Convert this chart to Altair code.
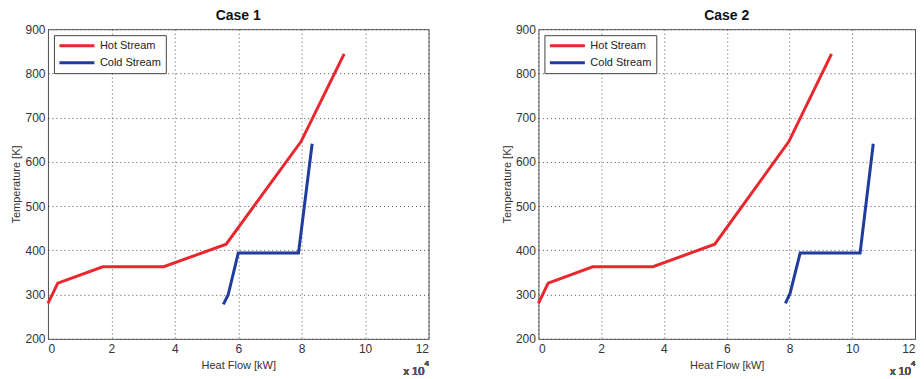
import altair as alt
import pandas as pd

# Heat flow in units of 1e4 kW, temperature in K
hot_q = [0.0, 0.31, 1.73, 3.65, 5.62, 7.98, 9.34]
hot_t = [280, 326, 363, 363, 414, 646, 844]

cold1_q = [5.53, 5.68, 6.00, 7.90, 8.33]
cold1_t = [278, 299, 394, 394, 641]

cold2_q = [7.87, 8.02, 8.34, 10.25, 10.67]
cold2_t = [280, 303, 394, 394, 641]

streams = ["Hot Stream", "Cold Stream"]
colors = ["#e8272e", "#1f3c9e"]
FONT = "Liberation Sans"


def frame(cold_q, cold_t):
    rows = []
    for i, (q, t) in enumerate(zip(hot_q, hot_t)):
        rows.append({"q": q, "t": t, "stream": "Hot Stream", "i": i})
    for i, (q, t) in enumerate(zip(cold_q, cold_t)):
        rows.append({"q": q, "t": t, "stream": "Cold Stream", "i": i})
    return pd.DataFrame(rows)


def panel(title, cold_q, cold_t, width):
    df = frame(cold_q, cold_t)
    base = alt.Chart(df)
    lines = base.mark_line(strokeWidth=3).encode(
        x=alt.X("q:Q", scale=alt.Scale(domain=[0, 12], nice=False),
                axis=alt.Axis(values=list(range(0, 13, 2)), title="Heat Flow [kW]")),
        y=alt.Y("t:Q", scale=alt.Scale(domain=[200, 900], nice=False),
                axis=alt.Axis(values=list(range(200, 901, 100)), title="Temperature [K]")),
        color=alt.Color("stream:N", sort=streams,
                        scale=alt.Scale(domain=streams, range=colors),
                        legend=alt.Legend(title=None, orient="top-left", offset=6,
                                          symbolType="M-1,0H6", symbolSize=100,
                                          symbolStrokeWidth=3, labelFontSize=11,
                                          labelColor="#222", labelFont=FONT,
                                          strokeColor="#444", fillColor="white",
                                          padding=4, rowPadding=4, labelOffset=29)),
        detail="stream:N",
        order="i:Q",
    )
    exp_main = base.mark_text(align="left", baseline="alphabetic", fontSize=11,
                              font=FONT, color="#555").encode(
        x=alt.value(width - 25), y=alt.value(346), text=alt.value("x 10"))
    exp_sup = base.mark_text(align="left", baseline="alphabetic", fontSize=8,
                             font=FONT, color="#555").encode(
        x=alt.value(width - 4), y=alt.value(337), text=alt.value("4"))
    return alt.layer(lines, exp_main, exp_sup).properties(
        width=width, height=310,
        title=alt.TitleParams(title, fontSize=14, fontWeight="bold", font=FONT,
                              color="#111", offset=0),
    ).resolve_scale(color="independent")


c1 = panel("Case 1", cold1_q, cold1_t, 381)
c2 = panel("Case 2", cold2_q, cold2_t, 377)

chart = alt.hconcat(c1, c2, spacing=110, bounds="flush").resolve_scale(
    color="independent").resolve_legend(color="independent").properties(
    padding={"left": 2, "top": 0, "right": 0, "bottom": 0}
).configure_view(stroke="#555", strokeWidth=1).configure_axis(
    grid=True, gridColor="#444", gridDash=[1, 3], gridOpacity=0.9,
    domain=False, ticks=False, labelFont=FONT, titleFont=FONT,
    labelFontSize=12, titleFontSize=11, labelColor="#333", titleColor="#333",
    titleFontWeight="normal", labelPadding=3,
).configure_axisY(titlePadding=3, labelPadding=3).configure_axisX(
    titlePadding=5, labelPadding=5)

chart.save("out.html", embed_options={"renderer": "svg", "actions": False})
